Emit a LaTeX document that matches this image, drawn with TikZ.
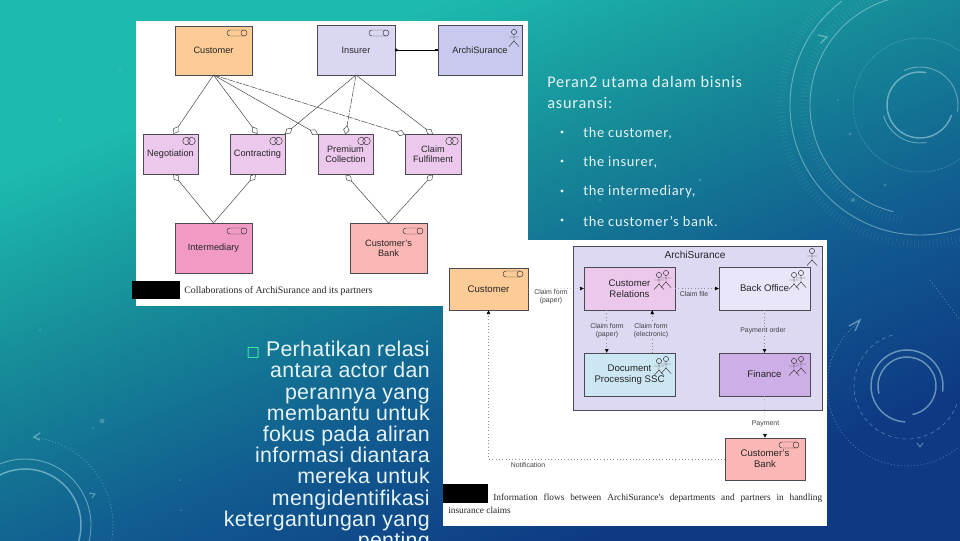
\documentclass[tikz,border=0pt]{standalone}
\usepackage{fontspec}
\setmainfont{Liberation Sans}
\newfontfamily\serifcap{Liberation Serif}
\newfontfamily\slidefont[LetterSpace=5]{Carlito}
\newfontfamily\bodyfont[LetterSpace=1.5]{Liberation Sans}
\newfontfamily\symfont{DejaVu Sans}
\usetikzlibrary{arrows.meta,calc}
\definecolor{bgA}{HTML}{1DBAAE}
\definecolor{bgB}{HTML}{168A98}
\definecolor{bgC}{HTML}{115C90}
\definecolor{bgD}{HTML}{0E3A84}
\pgfdeclareverticalshading{slidebg}{100bp}{color(0bp)=(bgD);color(28bp)=(bgD);color(42bp)=(bgC);color(56bp)=(bgB);color(70bp)=(bgA);color(100bp)=(bgA)}
\definecolor{fOrange}{HTML}{FCCB96}
\definecolor{fInsurer}{HTML}{DAD7F3}
\definecolor{fArchi}{HTML}{C9C8EE}
\definecolor{fCollab}{HTML}{ECC8EC}
\definecolor{fInter}{HTML}{F09AC4}
\definecolor{fBank}{HTML}{FBB6B6}
\definecolor{fGroup}{HTML}{DDD9F3}
\definecolor{fBack}{HTML}{E9E6F9}
\definecolor{fDoc}{HTML}{CDE6F3}
\definecolor{fFin}{HTML}{CDAEE6}
\definecolor{edgeC}{HTML}{4A4A55}
\definecolor{slideText}{HTML}{E6F3F5}
\definecolor{ringC}{HTML}{BFE6EE}
\tikzset{
  wh/.style 2 args={minimum width=#1*0.75pt,minimum height=#2*0.75pt},
  box/.style={draw=edgeC,line width=0.6pt,inner sep=0pt,outer sep=0pt,align=center,text=black!85,font=\fontsize{6.9}{7.6}\selectfont},
  boxb/.style={box,font=\fontsize{7.2}{8.2}\selectfont},
  lbl/.style={inner sep=0.6pt,align=center,text=black!75,font=\fontsize{5.2}{6}\selectfont},
  assoc/.style={draw=black!75,line width=0.35pt,-{Diamond[open,length=7pt,width=4.6pt,line width=0.35pt]}},
  assocd/.style={assoc,dash pattern=on 5pt off 0.8pt},
  flow/.style={draw=black!45,line width=0.45pt,dotted,-{Latex[length=3pt,width=3pt,black]}},
  ring/.style={draw=ringC,line width=0.7pt,opacity=0.45},
  thickring/.style={draw=ringC,line width=1.1pt,opacity=0.5},
  faintring/.style={draw=ringC,line width=0.35pt,opacity=0.3},
  dotring/.style={draw=ringC,line width=0.45pt,opacity=0.35,dash pattern=on 1pt off 1.5pt},
  dashring/.style={draw=ringC,line width=0.45pt,opacity=0.4,dash pattern=on 3pt off 2.5pt},
  tickring/.style={draw=ringC,line width=6pt,opacity=0.12,dash pattern=on 0.4pt off 2.4pt},
  icon/.style={draw=black!80,line width=0.35pt},
  slide/.style={anchor=west,inner sep=0pt,text=slideText,font=\slidefont\fontsize{12.2}{14}\selectfont},
  bul/.style={anchor=west,inner sep=0pt,text=slideText,font=\slidefont\fontsize{10.8}{12}\selectfont},
  myrole/.pic={\draw[icon] (-7,-3) -- (7,-3) (-7,3) -- (7,3) (-7,-3) arc[start angle=90,end angle=270,radius=2.25pt]; \draw[icon] (7,0) circle[radius=3*0.75pt];},
  mycollab/.pic={\draw[icon] (-2.5,0) circle[radius=3.8*0.75pt] (2.5,0) circle[radius=3.8*0.75pt];},
  myactor/.pic={\draw[icon] (0,-6) circle[radius=2.6*0.75pt] (0,-3.4) -- (0,3) (-5,-1) -- (5,-1) (-5,8.5) -- (0,3) -- (5,8.5);},
  mygroup/.pic={\pic at (3,-1) {myactor}; \pic at (-4,1) {myactor};},
}
\newcommand{\ringarc}[6]{\draw[#1] (#2,#3) ++(#5:#4*0.75pt) arc[start angle=#5,end angle=#6,radius=#4*0.75pt];}
\begin{document}
\begin{tikzpicture}[x=0.75pt,y=-0.75pt]
\useasboundingbox (0,0) rectangle (960,540);
\begin{scope}
\clip (0,0) rectangle (960,540);
\shade[shading=slidebg,shading angle=22] (0,0) rectangle (960,540);
% decoration, top right
\ringarc{thickring}{920}{105}{33}{79}{342}
\ringarc{ring}{920}{105}{38}{115}{-10}
\ringarc{ring}{920}{105}{38}{197}{280}
\draw[faintring,dash pattern=on 2pt off 0.6pt] (920,105) circle[radius=67*0.75pt];
\ringarc{ring}{920}{105}{110}{106}{256}
\ringarc{ring}{920}{105}{130}{127}{288}
\ringarc{ring}{920}{105}{130}{62}{72}
\ringarc{tickring}{920}{105}{116}{100}{262}
\ringarc{tickring}{920}{105}{139}{120}{290}
\draw[ring,line width=1pt] (818,35) -- (827,37) -- (821,43);
% decoration, lower right
\ringarc{thickring}{907}{386}{36}{-9}{267}
\ringarc{thickring}{907}{386}{29}{195}{-79}
\ringarc{dashring}{907}{386}{53}{106}{342}
\ringarc{dotring}{907}{386}{80}{127}{310}
\draw[ring,line width=1pt] (849,326) -- (860,320) -- (855,331);
\draw[ring] (917,443) -- (920,447) -- (923,443);
\draw[dotring] (930,280) -- (960,320);
% decoration, lower left
\ringarc{thickring}{25}{525}{56}{180}{-20}
\ringarc{ring}{25}{525}{66}{180}{-20}
\ringarc{dotring}{25}{525}{88}{81}{-12}
\draw[ring,line width=1pt] (40,433) -- (34,437) -- (40,440);
\draw[ring] (89,493) -- (95,494) -- (92,498);
% specks
\foreach \px/\py/\pr in {102/421/2.5,93/428/1.2,650/130/1.5,700/180/1.5,838/100/1,850/134/1.5,885/185/1.5,853/200/2,600/200/1.2,120/70/1,60/120/1.2,40/330/1,180/480/1,181/510/1}
  \fill[ringC,opacity=0.25] (\px,\py) circle[radius=\pr*0.75pt];
% slide text
\node[anchor=north east,inner sep=0pt,align=right,text=slideText,font=\bodyfont\fontsize{16}{15.9}\selectfont] (bodytext) at (430,341)
  {{\symfont\fontsize{10.5}{10}\selectfont\textcolor{green!45!cyan!70!white}{□}}\ Perhatikan relasi\\antara actor dan\\perannya yang\\membantu untuk\\fokus pada aliran\\informasi diantara\\mereka untuk\\mengidentifikasi\\ketergantungan yang\\penting};
\end{scope}
\node[slide] (t1) at (547,82) {Peran2 utama dalam bisnis};
\node[slide] (t2) at (547,103) {asuransi:};
\foreach \nm/\yy/\txt in {b1/133/the customer\rlap{,},b2/162/the insurer\rlap{,},b3/192/the intermediary\rlap{,},b4/221/the customer’s bank.}{
  \node[bul] (\nm) at (583,\yy) {\txt};
  \fill[slideText] (562,\yy-1) circle[radius=1.7*0.75pt];
}
% panel 1
\fill[white] (136,21) rectangle (528,306);
\node[box,wh={77}{49},fill=fOrange] (cust) at (213.5,50.5) {Customer};
\node[box,wh={78}{50},fill=fInsurer] (ins) at (356,50) {Insurer};
\node[box,wh={84}{50},fill=fArchi] (archi) at (480,50) {ArchiSurance};
\node[box,wh={55}{40},fill=fCollab] (neg) at (170.5,154) {Negotiation};
\node[box,wh={55}{40},fill=fCollab] (con) at (257.5,154) {Contracting};
\node[box,wh={55}{40},fill=fCollab] (pre) at (345.5,154.5) {Premium\\Collection};
\node[box,wh={56}{40},fill=fCollab] (cla) at (433,154.5) {Claim\\Fulfilment};
\node[box,wh={77}{50},fill=fInter] (int) at (213.5,248) {Intermediary};
\node[box,wh={77}{50},fill=fBank] (bnk) at (388.5,248) {Customer's\\Bank};
\pic at (237,33) {myrole};
\pic at (379,33) {myrole};
\pic at (514,38) {myactor};
\foreach \xx in {189,276,364,452} \pic at (\xx,141) {mycollab};
\pic at (237,231) {myrole};
\pic at (413,231) {myrole};
\draw[line width=0.7pt,black,{Circle[length=2pt]}-{Square[length=2pt]}] (ins.east) -- (archi.west);
\draw[assoc] (cust.south) -- ($(neg.north west)!0.55!(neg.north east)$);
\draw[assoc] (cust.south) -- ($(con.north west)!0.5!(con.north east)$);
\draw[assoc] (cust.south) -- (pre.north west);
\draw[assocd] (cust.south) -- (cla.north west);
\draw[assoc] (ins.south) -- (con.north east);
\draw[assocd] (ins.south) -- ($(pre.north west)!0.5!(pre.north east)$);
\draw[assoc] (ins.south) -- ($(cla.north west)!0.5!(cla.north east)$);
\draw[assoc] (int.north) -- ($(neg.south west)!0.55!(neg.south east)$);
\draw[assoc] (int.north) -- ($(con.south west)!0.47!(con.south east)$);
\draw[assoc] (bnk.north) -- ($(pre.south west)!0.5!(pre.south east)$);
\draw[assoc] (bnk.north) -- ($(cla.south west)!0.5!(cla.south east)$);
\fill[black] (132,281) rectangle (180,299);
\node[anchor=west,inner sep=0pt,text=black!85,font=\serifcap\fontsize{7.4}{8}\selectfont] (cap1) at (184,291) {Collaborations of ArchiSurance and its partners};
% panel 2
\fill[white] (443,240) rectangle (827,526);
\node[boxb,wh={79}{42},fill=fOrange] (cust2) at (488.5,289) {Customer};
\node[boxb,wh={249}{164},fill=fGroup] (grp) at (697.5,328) {};
\node[inner sep=0pt,text=black!85,font=\fontsize{7.6}{9}\selectfont] (grpname) at (695,255) {ArchiSurance};
\node[boxb,wh={91}{43},fill=fCollab] (rel) at (629.5,288.5) {Customer\\Relations};
\node[boxb,wh={91}{43},fill=fBack] (off) at (764.5,288.5) {Back Office};
\node[boxb,wh={91}{43},fill=fDoc] (doc) at (629.5,374.5) {Document\\Processing SSC};
\node[boxb,wh={91}{43},fill=fFin] (fin) at (764.5,374.5) {Finance};
\node[boxb,wh={80}{42},fill=fBank] (bnk2) at (765,459) {Customer's\\Bank};
\pic at (513,274) {myrole};
\pic at (812,257) {myactor};
\pic at (663,280) {mygroup};
\pic at (798,280) {mygroup};
\pic at (663,366) {mygroup};
\pic at (798,366) {mygroup};
\pic at (789,445) {myrole};
\coordinate (nbend) at (cust2.south |- bnk2.west);
\draw[flow] (cust2.east) -- (rel.west);
\draw[flow] (rel.east) -- (off.west);
\draw[flow] ($(rel.south west)!0.25!(rel.south east)$) -- ($(doc.north west)!0.25!(doc.north east)$);
\draw[flow] ($(doc.north west)!0.75!(doc.north east)$) -- ($(rel.south west)!0.75!(rel.south east)$);
\draw[flow] (off.south) -- (fin.north);
\draw[flow] (fin.south) -- (bnk2.north);
\draw[flow] (bnk2.west) -- (nbend) -- (cust2.south);
\node[lbl,fill=white] (l1) at (551,297) {Claim form\\(paper)};
\node[lbl,fill=fGroup] (l2) at (694,294) {Claim file};
\node[lbl,fill=fGroup] (l3) at (607,331) {Claim form\\(paper)};
\node[lbl,fill=fGroup] (l4) at (651,331) {Claim form\\(electronic)};
\node[lbl,fill=fGroup] (l5) at (763,331) {Payment order};
\node[lbl,fill=white] (l6) at (765.5,424) {Payment};
\node[lbl] (l7) at (528,465) {Notification};
\fill[black] (443,484) rectangle (488,503);
\node[anchor=west,inner sep=0pt,text=black!85,font=\serifcap\fontsize{7}{8}\selectfont] (cap2) at (493,498) {\makebox[246.75pt][s]{Information flows between ArchiSurance's departments and partners in handling}};
\node[anchor=west,inner sep=0pt,text=black!85,font=\serifcap\fontsize{7}{8}\selectfont] (cap3) at (448,510) {insurance claims};
\end{tikzpicture}
\end{document}
